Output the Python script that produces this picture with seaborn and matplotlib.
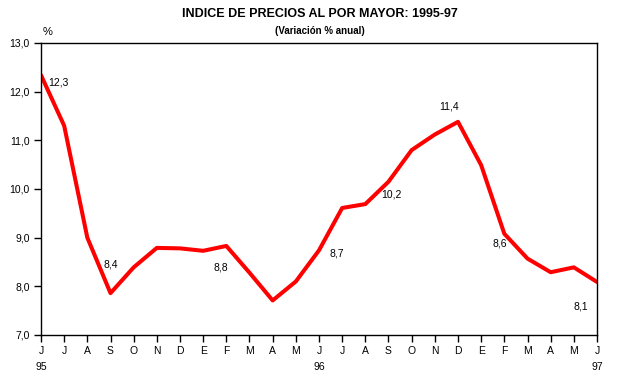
import matplotlib
matplotlib.use("Agg")
import matplotlib.pyplot as plt
import seaborn as sns
import pandas as pd

months = ["J", "J", "A", "S", "O", "N", "D", "E", "F", "M", "A", "M",
          "J", "J", "A", "S", "O", "N", "D", "E", "F", "M", "A", "M", "J"]
years = {0: "95", 12: "96", 24: "97"}
values = [12.34, 11.3, 9.0, 7.86, 8.39, 8.79, 8.78, 8.73, 8.83, 8.28, 7.71, 8.10,
          8.74, 9.61, 9.69, 10.15, 10.80, 11.12, 11.38, 10.49, 9.08, 8.57, 8.29, 8.39, 8.09]
label_idx = [0, 4, 8, 12, 15, 18, 21, 24]
label_txt = ["12,3", "8,4", "8,8", "8,7", "10,2", "11,4", "8,6", "8,1"]
label_off = [(17, -7), (-23, 3), (-6, -22), (18, -3), (3, -13), (-9, 15), (-28, 15), (-16, -25)]

sns.set_style("white")
plt.rcParams['font.family'] = ['Liberation Sans', 'DejaVu Sans']
plt.rcParams['text.color'] = 'black'
plt.rcParams['xtick.color'] = 'black'
plt.rcParams['ytick.color'] = 'black'
plt.rcParams['xtick.labelcolor'] = 'black'
plt.rcParams['ytick.labelcolor'] = 'black'

df = pd.DataFrame({"idx": range(len(values)), "val": values})

fig = plt.figure(figsize=(6.31, 3.81), dpi=100)
ax = fig.add_axes([41 / 631, 1 - 335 / 381, 556 / 631, 292 / 381])
sns.lineplot(data=df, x="idx", y="val", ax=ax, color="#ff0000", linewidth=2.9)

ax.set_xlim(0, 24)
ax.set_ylim(7, 13)
ax.set_yticks([7, 8, 9, 10, 11, 12, 13])
ax.set_yticklabels(["7,0", "8,0", "9,0", "10,0", "11,0", "12,0", "13,0"], fontsize=7.5)
ax.set_xticks(range(25))
ax.set_xticklabels([m + ("\n" + years[i] if i in years else "\n") for i, m in enumerate(months)],
                   fontsize=7.5, linespacing=1.75)
ax.tick_params(axis="both", which="both", direction="out", length=5, width=1,
               bottom=True, left=True, pad=3)
ax.set_xlabel("")
ax.set_ylabel("")
for s in ax.spines.values():
    s.set_color("black")
    s.set_linewidth(1)

for i, t, off in zip(label_idx, label_txt, label_off):
    ax.annotate(t, xy=(i, values[i]), xytext=off, textcoords="offset pixels",
                ha="center", va="center", fontsize=7.5, color="black")

fig.text(0.507, 1 - 14 / 381, "INDICE DE PRECIOS AL POR MAYOR: 1995-97",
         ha="center", va="center", fontsize=9, fontweight="bold", color="black",
         family=['Liberation Sans Narrow', 'Liberation Sans', 'DejaVu Sans'])
fig.text(0.507, 1 - 31 / 381, "(Variación % anual)", ha="center", va="center",
         fontsize=7, fontweight="bold", color="black",
         family=['Liberation Sans Narrow', 'Liberation Sans', 'DejaVu Sans'])
fig.text(47.5 / 631, 1 - 32 / 381, "%", ha="center", va="center", fontsize=8, color="black")

fig.savefig("out.png", dpi=100, facecolor="white")
